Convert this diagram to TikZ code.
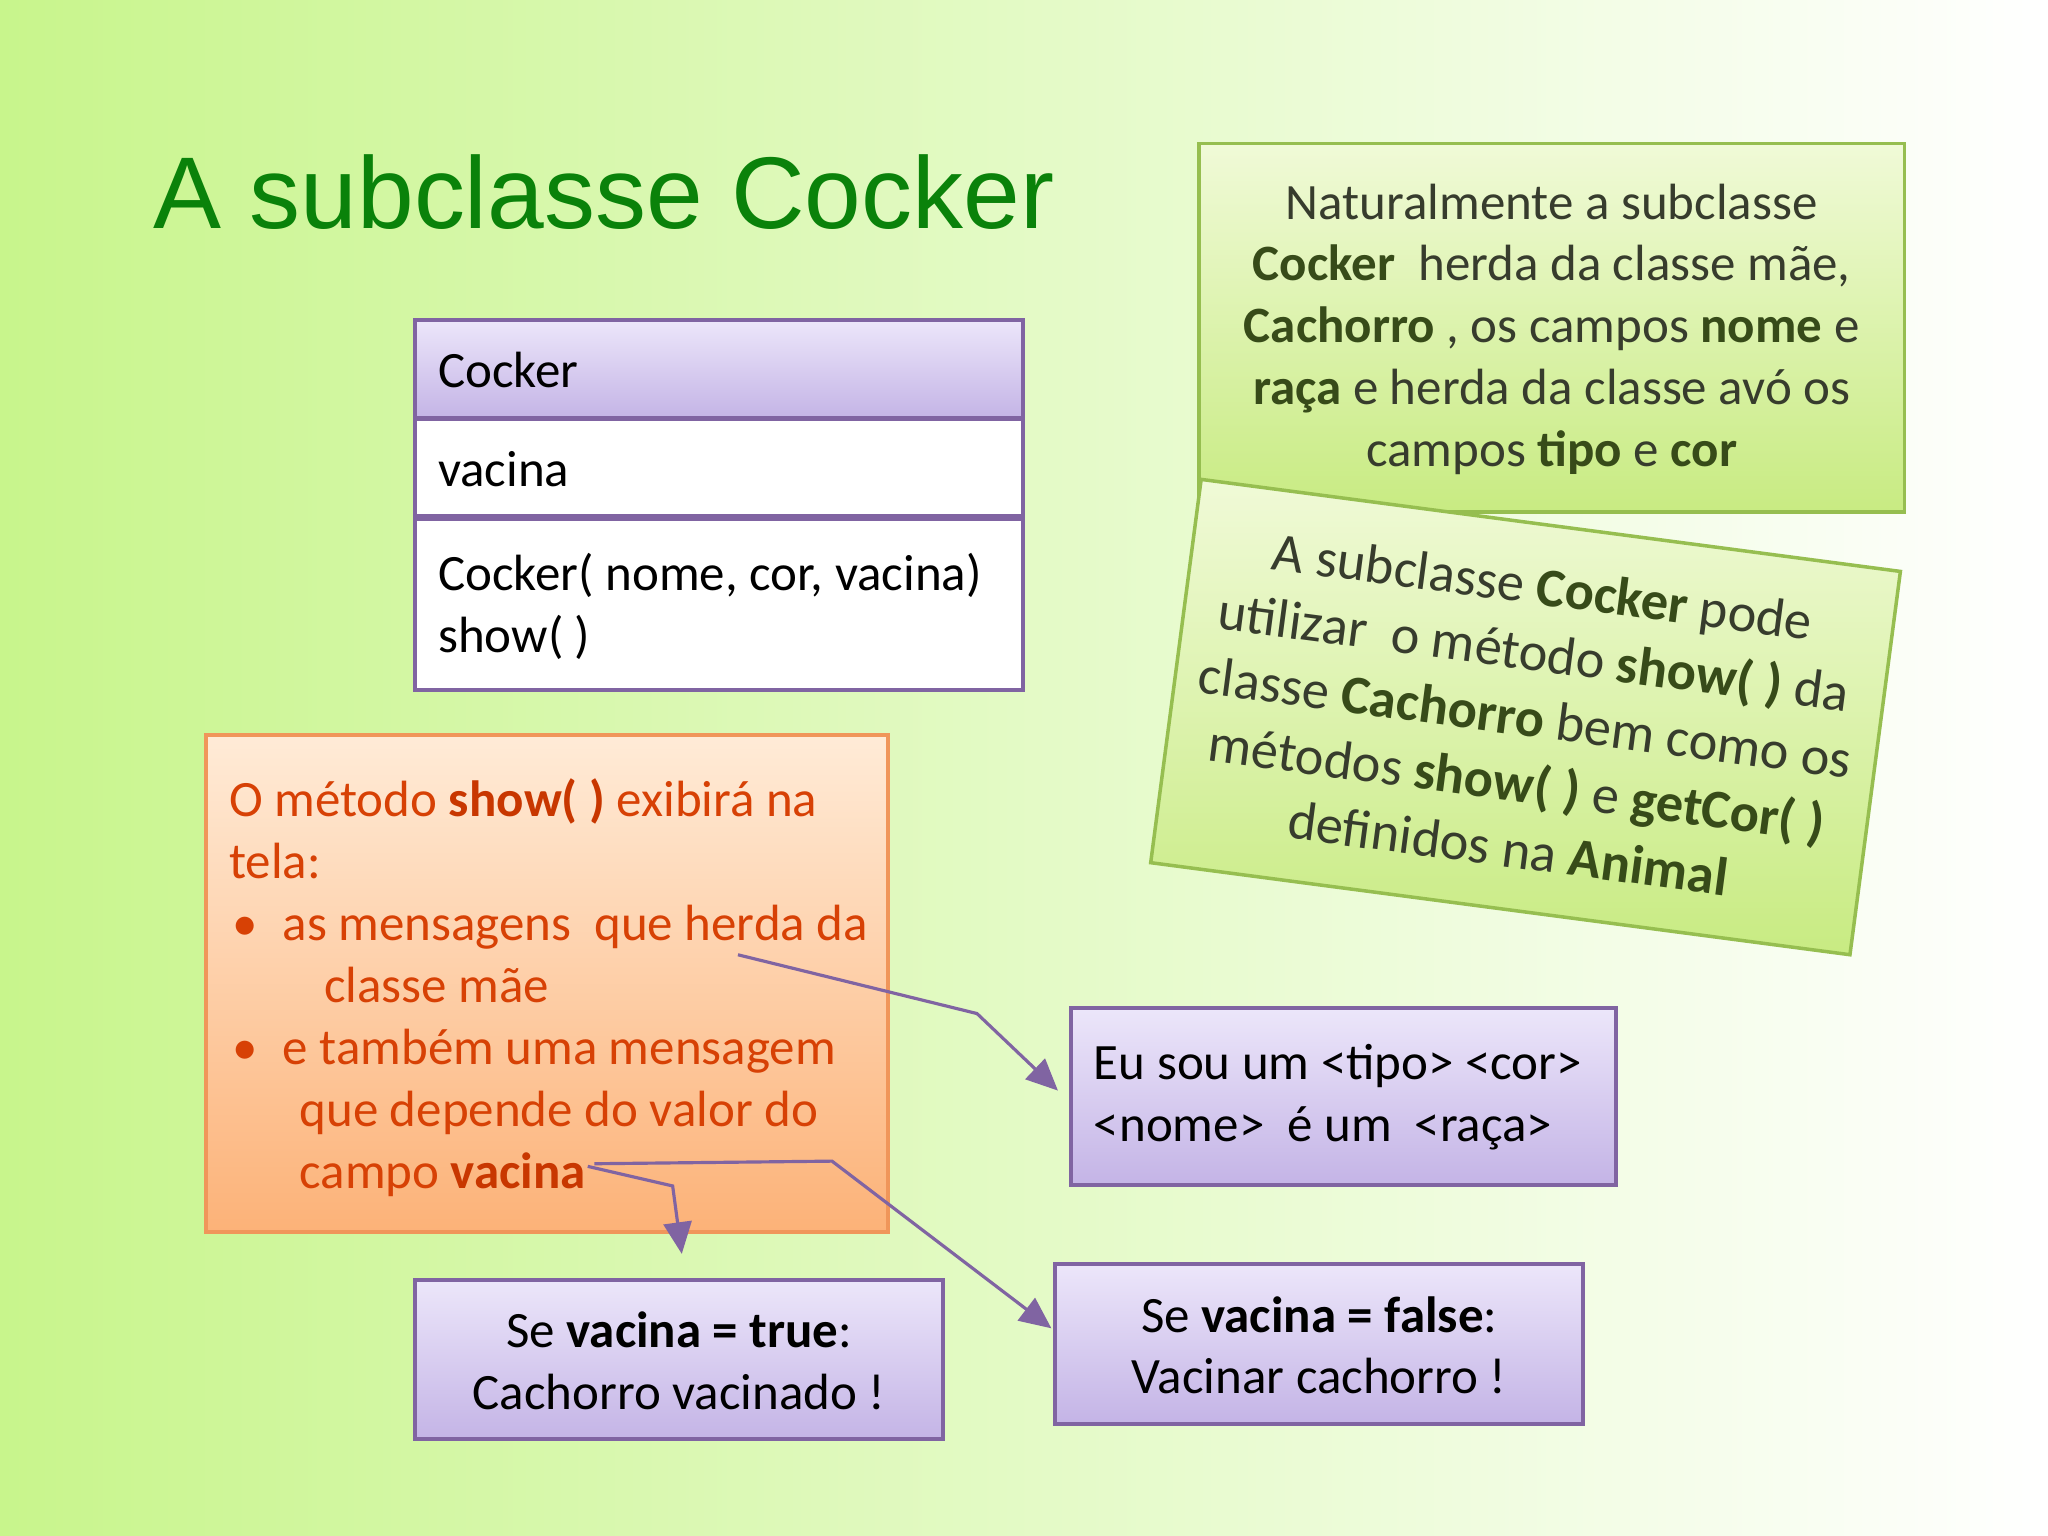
\documentclass[tikz,border=0pt]{standalone}
\usepackage{fontspec}
\setmainfont{Carlito}
\newfontfamily\titlefont{Liberation Sans}
\usetikzlibrary{arrows.meta,calc}
\definecolor{arr}{RGB}{128,100,162}
\definecolor{pbord}{RGB}{128,100,162}
\definecolor{ptop}{RGB}{236,230,250}
\definecolor{pbot}{RGB}{196,180,230}
\definecolor{gbord}{RGB}{150,190,80}
\definecolor{gtop}{RGB}{240,250,215}
\definecolor{gbot}{RGB}{200,235,130}
\definecolor{otext}{RGB}{215,65,5}
\definecolor{obold}{RGB}{200,55,0}
\definecolor{gtext}{RGB}{55,60,45}
\definecolor{gboldc}{RGB}{55,75,25}
\tikzset{
 px/.style={x=0.0130612cm,y=-0.0130612cm},
 pbox/.style={draw=pbord,line width=1.2pt,top color=ptop,bottom color=pbot},
 gbox/.style={draw=gbord,line width=1pt,top color=gtop,bottom color=gbot},
 wbox/.style={draw=pbord,line width=1.2pt,fill=white},
 txt/.style={font=\fontsize{14.5}{17.6}\selectfont,inner sep=0pt},
 conn/.style={draw=arr,line width=0.9pt,-{Triangle[length=9pt,width=8pt]}},
}
\newcommand{\gb}[1]{\textbf{\color{gboldc}#1}}
\begin{document}
\begin{tikzpicture}[px]
\useasboundingbox (0,0) rectangle (1568,1176);
\begin{scope}[x=0.0130612cm,y=0.0130612cm]
\shade[shading=axis,shading angle=45,left color={rgb,255:red,200;green,245;blue,140},right color=white] (0,-1176) rectangle (1568,0);
\end{scope}
\node[anchor=west,inner sep=0pt,text={rgb,255:red,10;green,130;blue,10},font=\titlefont\fontsize{29}{33}\selectfont] (title) at (117,147) {A subclasse Cocker};
% UML
\path[pbox] (318,245) rectangle coordinate (h) (783,320);
\node[txt,anchor=west] (ht) at (335,283) {Cocker};
\path[wbox] (318,321) rectangle coordinate (f) (783,395);
\node[txt,anchor=west] (ft) at (335,359) {vacina};
\path[wbox] (318,397) rectangle coordinate (m) (783,528);
\node[txt,anchor=west,align=left] (mt) at (335,464) {Cocker( nome, cor, vacina)\\show( )};
% green boxes
\path[gbox] (918,110) rectangle coordinate (g1) (1458,392);
\node[txt,text=gtext,align=center] (g1t) at (1188,252) {Naturalmente a subclasse\\ \gb{Cocker}\ \ herda da classe mãe,\\ \gb{Cachorro} , os campos \gb{nome} e\\ \gb{raça} e herda da classe avó os\\ campos \gb{tipo} e \gb{cor}};
\begin{scope}[shift={(1168,549)},rotate=-7.5]
\path[gbox] (-270,-148) rectangle (270,148);
\end{scope}
\node[txt,text=gtext,align=center,font=\fontsize{15.5}{18.8}\selectfont,rotate=-7.5] (g2t) at (1168,549) {A subclasse \gb{Cocker} pode\\ utilizar\ \ o método \gb{show( )} da\\ classe \gb{Cachorro} bem como os\\ métodos \gb{show( )} e \gb{getCor( )}\\ definidos na \gb{Animal}};
% orange
\path[draw={rgb,255:red,240;green,150;blue,90},line width=1.2pt,top color={rgb,255:red,255;green,235;blue,215},bottom color={rgb,255:red,252;green,178;blue,120}] (158,563) rectangle coordinate (o) (680,943);
\node[txt,anchor=north west,text=otext,align=left] (ot) at (175,596) {O método \textbf{\color{obold}show( )} exibirá na\\ tela:\\
\hspace*{1pt}•\hspace*{7pt}as mensagens\ \ que herda da\\ \hspace*{27pt}classe mãe\\
\hspace*{1pt}•\hspace*{7pt}e também uma mensagem\\ \hspace*{20pt}que depende do valor do\\ \hspace*{20pt}campo \textbf{\color{obold}vacina}};
% purple result boxes
\path[pbox] (820,772) rectangle coordinate (p1) (1237,907);
\node[txt,anchor=west,align=left] (p1t) at (837,840) {Eu sou um <tipo> <cor>\\<nome>\ \ é um\ \ <raça>};
\path[pbox] (318,980) rectangle coordinate (p2) (722,1102);
\node[txt,align=center] (p2t) at (520,1042) {Se \textbf{vacina = true}:\\Cachorro vacinado !};
\path[pbox] (808,968) rectangle coordinate (p3) (1212,1090);
\node[txt,align=center] (p3t) at (1010,1030) {Se \textbf{vacina = false}:\\Vacinar cachorro !};
% connectors
\coordinate (a1) at (565,731);
\coordinate (a2) at (450,893);
\coordinate (a3) at (455,891);
\coordinate (e1) at (810,835);
\coordinate (e2) at (522,960);
\coordinate (e3) at (805,1017);
\draw[conn] (a1) -- (748,776) -- (e1);
\draw[conn] (a2) -- (515,908) -- (e2);
\draw[conn] (a3) -- (637,889) -- (e3);
\end{tikzpicture}
\end{document}
